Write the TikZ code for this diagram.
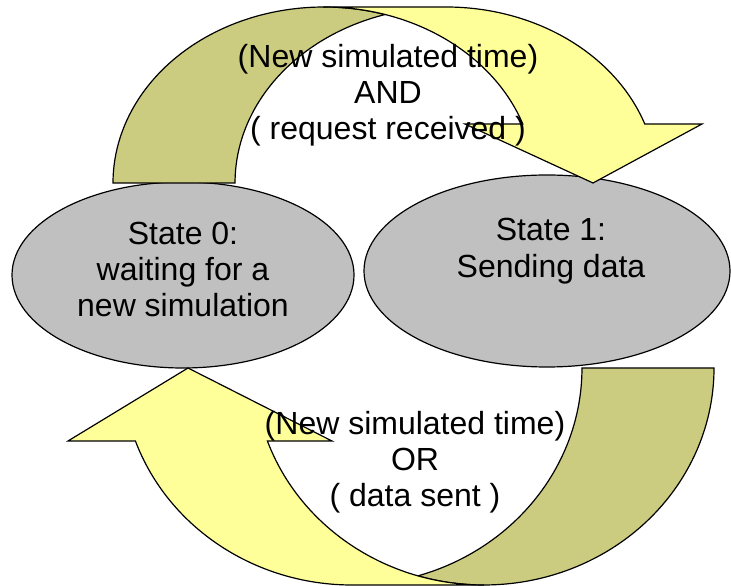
\documentclass[tikz,border=0pt]{standalone}
\usepackage{fontspec}
\setmainfont{Liberation Sans}
\usetikzlibrary{shapes.geometric}
\definecolor{stategray}{RGB}{192,192,192}
\definecolor{bandlight}{RGB}{255,255,153}
\definecolor{banddark}{RGB}{204,204,128}
\tikzset{
  statebox/.style={ellipse, draw=black, line width=1.2pt, fill=stategray, inner sep=0pt},
  lightband/.style={draw=black, line width=1.2pt, line join=miter, fill=bandlight},
  darkband/.style={draw=black, line width=1.2pt, line join=miter, fill=banddark},
  txt/.style={anchor=base, inner sep=0pt, font=\fontsize{32}{36}\selectfont}
}
\begin{document}
\begin{tikzpicture}[x=1pt,y=1pt]
\useasboundingbox (0,0) rectangle (731,586);

% the two states
\node[statebox, minimum width=342pt, minimum height=186pt] (s0) at (183,311) {};
\node[statebox, minimum width=366pt, minimum height=192pt] (s1) at (547,315) {};

% upper curved arrow: state 0 -> state 1
\draw[darkband] (113,403)
  arc[start angle=180, end angle=73.19, x radius=211, y radius=176]
  arc[start angle=106.81, end angle=180, x radius=211, y radius=176] -- cycle;
\draw[lightband] (324,579) -- (446,579)
  arc[start angle=90, end angle=19.58, x radius=211, y radius=176]
  -- (702,462) -- (593,403) -- (465,462) -- (522.8,462)
  arc[start angle=19.58, end angle=90, x radius=211, y radius=176] -- cycle;

% lower curved arrow: state 1 -> state 0
\draw[darkband] (714,218)
  arc[start angle=0, end angle=-106.68, x radius=230, y radius=217]
  arc[start angle=-73.32, end angle=0, x radius=230, y radius=217] -- cycle;
\draw[lightband] (484,1) -- (352,1)
  arc[start angle=-90, end angle=-160.34, x radius=230, y radius=217]
  -- (68,145) -- (188,218) -- (332,145) -- (267.4,145)
  arc[start angle=-160.34, end angle=-90, x radius=230, y radius=217] -- cycle;

% state labels
\node[txt] (s0a) at (183,341) {State 0:};
\node[txt] (s0b) at (183,305) {waiting for a};
\node[txt] (s0c) at (183,269) {new simulation};
\node[txt] (s1a) at (551,345) {State 1:};
\node[txt] (s1b) at (551,308) {Sending data};

% transition conditions
\node[txt] (t1a) at (388,518) {(New simulated time)};
\node[txt] (t1b) at (388,482) {AND};
\node[txt] (t1c) at (388,446) {( request received )};
\node[txt] (t2a) at (415,151) {(New simulated time)};
\node[txt] (t2b) at (415,115) {OR};
\node[txt] (t2c) at (415,79) {( data sent )};
\end{tikzpicture}
\end{document}
